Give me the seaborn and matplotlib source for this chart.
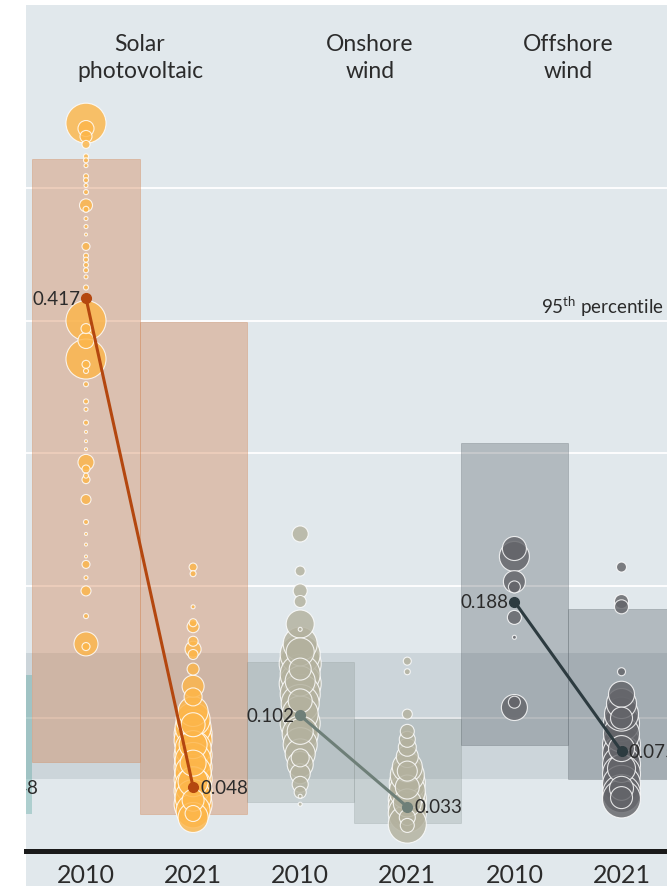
import numpy as np
import pandas as pd
import seaborn as sns
import matplotlib.pyplot as plt
from matplotlib.patches import Rectangle

# ---- data (USD/kWh, project capacity in MW) ----
techs = ["Solar photovoltaic", "Onshore wind", "Offshore wind"]
titles = ["Solar\nphotovoltaic", "Onshore\nwind", "Offshore\nwind"]
years = ["2010", "2021", "2010", "2021", "2010", "2021"]

p05 = [0.067, 0.028, 0.037, 0.021, 0.080, 0.054]
p95 = [0.522, 0.399, 0.142, 0.099, 0.308, 0.182]
medians = [0.417, 0.048, 0.102, 0.033, 0.188, 0.075]
fossil_low, fossil_high = 0.054, 0.149

# previous category (hydropower 2021), only its right edge shows
hydro_p05, hydro_p95, hydro_median = 0.028, 0.1325, 0.048

solar_2010_lcoe = [0.549, 0.545, 0.539, 0.533, 0.524, 0.521, 0.517, 0.509, 0.506, 0.502,
                   0.497, 0.487, 0.484, 0.477, 0.471, 0.465, 0.456, 0.449, 0.446, 0.442,
                   0.438, 0.433, 0.425, 0.400, 0.394, 0.385, 0.371, 0.367, 0.362, 0.352,
                   0.339, 0.333, 0.323, 0.316, 0.309, 0.303, 0.293, 0.288, 0.283, 0.280,
                   0.265, 0.248, 0.239, 0.231, 0.222, 0.216, 0.206, 0.196, 0.177, 0.156,
                   0.154]
solar_2010_mw = [4147, 664, 373, 166, 65, 65, 41, 65, 65, 41,
                 65, 438, 93, 41, 41, 23, 166, 65, 65, 65,
                 65, 41, 65, 4147, 259, 664, 4147, 166, 65, 65,
                 65, 41, 65, 23, 23, 23, 664, 166, 65, 166,
                 259, 65, 23, 23, 23, 166, 41, 259, 65, 1493,
                 166]

solar_2021_lcoe = [0.214, 0.209, 0.184, 0.172, 0.169, 0.158, 0.152, 0.148, 0.137, 0.124,
                   0.116, 0.105, 0.099, 0.093, 0.088, 0.083, 0.077, 0.072, 0.068, 0.063,
                   0.059, 0.054, 0.049, 0.045, 0.040, 0.035, 0.030, 0.025,
                   0.095, 0.080, 0.066, 0.052, 0.038, 0.028]
solar_2021_mw = [166, 93, 41, 166, 373, 259, 664, 259, 373, 1254,
                 840, 2333, 2996, 3359, 3743, 3743, 3359, 3743, 3359, 3743,
                 3359, 3743, 3359, 3743, 3359, 3743, 2996, 2333,
                 1493, 2032, 1752, 2333, 1254, 664]

onshore_2010_lcoe = [0.239, 0.211, 0.196, 0.188, 0.171, 0.167, 0.156, 0.148, 0.141, 0.133,
                     0.126, 0.118, 0.111, 0.103, 0.096, 0.088, 0.080, 0.073, 0.065, 0.058,
                     0.050, 0.044, 0.041, 0.035,
                     0.150, 0.137, 0.128, 0.113, 0.090, 0.070]
onshore_2010_mw = [664, 259, 508, 373, 2032, 41, 2996, 4147, 4572, 4147,
                   4572, 4147, 3743, 3359, 4147, 3359, 2996, 2333, 1752, 1037,
                   664, 373, 41, 41,
                   2032, 1254, 2333, 1493, 1752, 840]

onshore_2021_lcoe = [0.143, 0.135, 0.103, 0.090, 0.084, 0.078, 0.071, 0.063, 0.057, 0.051,
                     0.045, 0.039, 0.033, 0.028, 0.020, 0.019,
                     0.060, 0.048, 0.036, 0.025]
onshore_2021_mw = [166, 93, 259, 508, 664, 840, 1254, 2333, 2996, 3359,
                   3359, 3743, 3743, 3743, 3743, 508,
                   1037, 1493, 2032, 664]

offshore_2010_lcoe = [0.228, 0.222, 0.203, 0.199, 0.176, 0.161, 0.112, 0.108]
offshore_2010_mw = [1493, 2333, 1254, 373, 508, 41, 373, 1752]

offshore_2021_lcoe = [0.214, 0.188, 0.184, 0.135, 0.118, 0.111, 0.103, 0.096, 0.088, 0.080,
                      0.073, 0.065, 0.058, 0.050, 0.043, 0.039,
                      0.100, 0.077, 0.062, 0.047, 0.040]
offshore_2021_mw = [259, 508, 508, 166, 1752, 2333, 2996, 3359, 3359, 3743,
                    3743, 3743, 3743, 3743, 3743, 3743,
                    1254, 1752, 2032, 1493, 1254]

# ---- styles ----
bg = "#e1e8ec"
bar_colors = ["#d28656", "#d28656", "#7d8a87", "#7d8a87", "#555e66", "#555e66"]
bar_alpha = [0.40, 0.40, 0.25, 0.25, 0.33, 0.33]
bubble_colors = {techs[0]: "#fdb64a", techs[1]: "#b3b19e", techs[2]: "#636469"}
line_colors = ["#b4470f", "#6e7f78", "#2d3b40"]
text_color = "#2b2b2b"

sns.set_style("white")
plt.rcParams["font.family"] = ["Lato", "DejaVu Sans"]
plt.rcParams["mathtext.default"] = "regular"

fig = plt.figure(figsize=(6.67, 8.87), dpi=100)
fig.add_artist(Rectangle((26 / 667, 0), 1 - 26 / 667, 1 - 5.5 / 887,
                         transform=fig.transFigure, facecolor=bg,
                         edgecolor="none", zorder=-5))
ax = fig.add_axes([26 / 667, (887 - 851.6) / 887, 1 - 26 / 667, (851.6 - 5.5) / 887])
ax.set_facecolor("none")

pos = np.arange(6)

# fossil fuel cost band
ax.axhspan(fossil_low, fossil_high, color="#5a6a75", alpha=0.15, lw=0, zorder=1)

# hydropower 2021 bar (cut off at the left)
ax.bar(-1, hydro_p95 - hydro_p05, bottom=hydro_p05, width=1.0,
       color="#4fa39b", alpha=0.35, lw=0, zorder=1)

# 5th - 95th percentile bars
for i in range(6):
    ax.bar(pos[i], p95[i] - p05[i], bottom=p05[i], width=1.0,
           color=bar_colors[i], alpha=bar_alpha[i],
           edgecolor=bar_colors[i], linewidth=0.6, zorder=1)

# projects
frames = []
for k, (tech, lc, mw) in enumerate([
        (techs[0], solar_2010_lcoe, solar_2010_mw),
        (techs[0], solar_2021_lcoe, solar_2021_mw),
        (techs[1], onshore_2010_lcoe, onshore_2010_mw),
        (techs[1], onshore_2021_lcoe, onshore_2021_mw),
        (techs[2], offshore_2010_lcoe, offshore_2010_mw),
        (techs[2], offshore_2021_lcoe, offshore_2021_mw)]):
    frames.append(pd.DataFrame({"tech": tech, "pos": pos[k], "lcoe": lc, "mw": mw}))
projects = pd.concat(frames).sort_values("mw", ascending=False, kind="stable")

sns.scatterplot(data=projects, x="pos", y="lcoe", hue="tech", size="mw",
                sizes=(0, 1000), size_norm=(0, 5000), palette=bubble_colors,
                alpha=0.82, edgecolor="white", linewidth=0.8, legend=False,
                ax=ax, zorder=2)

# medians and their labels
for t in range(3):
    i0, i1 = 2 * t, 2 * t + 1
    ax.plot([pos[i0], pos[i1]], [medians[i0], medians[i1]], color=line_colors[t],
            lw=2.2, marker="o", ms=7, zorder=4)
    ax.annotate(f"{medians[i0]:.3f}", (pos[i0], medians[i0]), xytext=(-4, 0),
                textcoords="offset points", ha="right", va="center",
                fontsize=13.5, color=text_color, zorder=5)
    ax.annotate(f"{medians[i1]:.3f}", (pos[i1], medians[i1]), xytext=(5, 0),
                textcoords="offset points", ha="left", va="center",
                fontsize=13.5, color=text_color, zorder=5)

ax.annotate(f"{hydro_median:.3f}", (-1, hydro_median), xytext=(8, 0),
            textcoords="offset points", ha="left", va="center", fontsize=13.5,
            color=text_color, annotation_clip=False, clip_on=True, zorder=5)

# category titles
title_x = [0.504, 2.652, 4.50]
for tx, tt in zip(title_x, titles):
    ax.text(tx, 0.599, tt, ha="center", va="center", fontsize=16.5,
            color=text_color, linespacing=1.32)

ax.text(4.248, 0.411, "95$^{th}$ percentile", ha="left", va="center",
        fontsize=13.5, color=text_color)

# axes
ax.set_yticks([0.1, 0.2, 0.3, 0.4, 0.5])
ax.yaxis.grid(True, color="white", lw=1.3)
ax.xaxis.grid(False)
ax.set_axisbelow(True)
ax.tick_params(axis="y", length=0, labelleft=False)

ax.set_xticks(np.arange(-0.5, 6, 1.0))
ax.set_xticks(pos, minor=True)
ax.set_xticklabels(years, minor=True)
ax.tick_params(axis="x", which="major", length=4, width=1.6, color="#1a1a1a",
               direction="out", labelbottom=False)
ax.tick_params(axis="x", which="minor", length=0, pad=9, labelsize=18,
               labelcolor=text_color)
ax.set_xlabel("")
ax.set_ylabel("")

# limits last, so the tick settings do not widen them
ax.set_xlim((26 - 86) / 107.1, (667 - 86) / 107.1)
ax.set_ylim(0, 0.6386)

for side in ["left", "right", "top"]:
    ax.spines[side].set_visible(False)
ax.spines["bottom"].set_linewidth(3.6)
ax.spines["bottom"].set_color("#1a1a1a")

fig.savefig("out.png", dpi=100)
plt.close(fig)
